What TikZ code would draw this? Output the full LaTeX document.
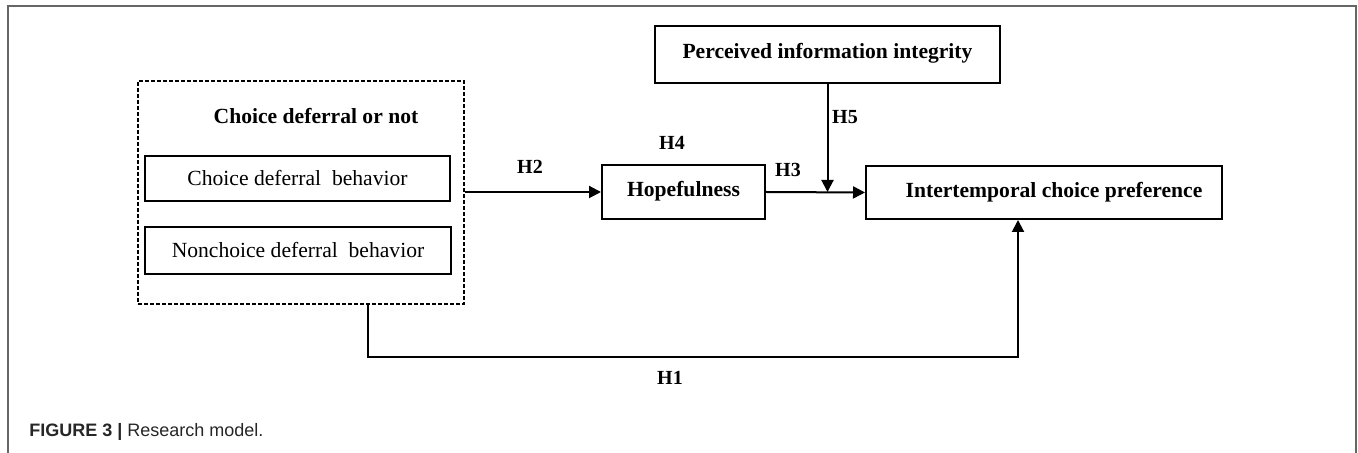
\documentclass[tikz,border=0pt]{standalone}
\usepackage{fontspec}
\setmainfont{Liberation Serif}
\newfontfamily\capfont{Liberation Sans}
\usetikzlibrary{calc,arrows.meta}

\begin{document}
\begin{tikzpicture}[x=0.5pt,y=-0.5pt,semithick,
    font=\fontsize{10.8}{13}\selectfont,
    box/.style={draw,line width=1pt,inner sep=0pt,font=\fontsize{10.8}{13}\selectfont\bfseries},
    subbox/.style={draw,line width=0.7pt,inner sep=0pt},
    arr/.style={line width=1pt,-{Triangle[length=6pt,width=6pt]}},
    hyp/.style={font=\fontsize{10}{12}\selectfont\bfseries}]

  \useasboundingbox (0,0) rectangle (1358,453);
  \draw[black!60,line width=1pt] (8,453) -- (8,6) -- (1356,6) -- (1356,453);

  % choice deferral group
  \node[draw,dash pattern=on 2pt off 1pt,line width=0.6pt,minimum width=163pt,minimum height=111.5pt] (grp) at (301,192.5) { };
  \node[font=\fontsize{10.8}{13}\selectfont\bfseries] (grptitle) at (316,116) {Choice deferral or not};
  \node[subbox,minimum width=152.5pt,minimum height=22.5pt] (cdb) at (297.5,178.5) {Choice deferral\ \ behavior};
  \node[subbox,minimum width=153pt,minimum height=23.5pt] (ncdb) at (298,250.5) {Nonchoice deferral\ \ behavior};

  % mediator, moderator, outcome
  \node[box,minimum width=81.5pt,minimum height=27pt] (hope) at (683.5,192) {\raisebox{3.5pt}{Hopefulness}};
  \node[box,minimum width=172.5pt,minimum height=28.5pt] (perc) at (827.5,54.5) {\raisebox{3.5pt}{Perceived information integrity}};
  \node[box,minimum width=178pt,minimum height=26.5pt] (itcp) at (1044,192.5) {\raisebox{3pt}{\hspace{10pt}Intertemporal choice preference}};

  \coordinate (h5end) at (perc.south |- hope.east);
  \coordinate (h1start) at ([xshift=33.5pt]grp.south);
  \coordinate (h1end) at ([xshift=-13pt]itcp.south);

  \draw[arr] (grp.east |- hope.west) -- (hope.west);
  \draw[arr] (hope.east) -- (itcp.west);
  \draw[arr] (perc.south) -- (h5end);
  \draw[arr] (h1start) -- ++(0,52) -| (h1end);

  \node[hyp] (h1) at (670,378) {H1};
  \node[hyp] (h2) at (530,167) {H2};
  \node[hyp] (h3) at (788,170) {H3};
  \node[hyp] (h4) at (672,143) {H4};
  \node[hyp] (h5) at (845,117) {H5};

  \node[anchor=west,font=\capfont\fontsize{9}{11}\selectfont,text=black!85] (cap) at (22,432) {{\bfseries FIGURE 3 |} Research model.};

\end{tikzpicture}
\end{document}
